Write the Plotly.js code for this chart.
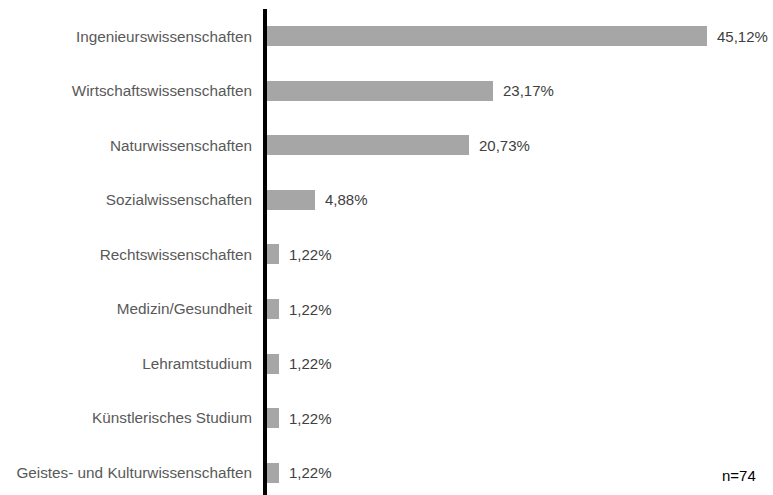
<!DOCTYPE html>
<html>
<head>
<meta charset="utf-8">
<script src="https://cdn.plot.ly/plotly-3.0.1.min.js"></script>
<style>html,body{margin:0;padding:0;background:#fff;}#chart{width:773px;height:495px;}</style>
</head>
<body>
<div id="chart"></div>
<script>
const categories = [
  "Ingenieurswissenschaften",
  "Wirtschaftswissenschaften",
  "Naturwissenschaften",
  "Sozialwissenschaften",
  "Rechtswissenschaften",
  "Medizin/Gesundheit",
  "Lehramtstudium",
  "Künstlerisches Studium",
  "Geistes- und Kulturwissenschaften"
];
const values = [45.12, 23.17, 20.73, 4.88, 1.22, 1.22, 1.22, 1.22, 1.22];
const sampleNote = "n=74";

const fontFamily = "Liberation Sans, Arial, sans-serif";
const valueLabels = values.map(v => v.toFixed(2).replace('.', ',') + '%');

const trace = {
  type: 'bar',
  orientation: 'h',
  x: values,
  y: categories,
  marker: {color: '#a6a6a6'},
  width: 0.367,
  hoverinfo: 'skip'
};

const annotations = values.map((v, i) => ({
  x: v, y: categories[i], xref: 'x', yref: 'y',
  text: valueLabels[i], showarrow: false,
  xanchor: 'left', yanchor: 'middle', xshift: 8,
  font: {family: fontFamily, size: 15, color: '#404040'}
}));
annotations.push({
  x: 46.4, y: categories[categories.length - 1], xref: 'x', yref: 'y',
  text: sampleNote, showarrow: false, xanchor: 'left', yanchor: 'middle', yshift: -3,
  font: {family: fontFamily, size: 15, color: '#000000'}
});

const layout = {
  width: 773, height: 495,
  margin: {l: 267, r: 18, t: 9, b: 0, pad: 0},
  paper_bgcolor: '#ffffff', plot_bgcolor: '#ffffff',
  showlegend: false,
  bargap: 0,
  xaxis: {range: [0, 50], visible: false, fixedrange: true},
  yaxis: {
    type: 'category',
    categoryorder: 'array', categoryarray: categories,
    range: [8.41, -0.5],
    showline: true, linecolor: '#000000', linewidth: 4,
    showgrid: false, zeroline: false, ticks: '',
    ticklabelstandoff: 8,
    tickfont: {family: fontFamily, size: 15.3, color: '#595959'},
    fixedrange: true
  },
  annotations: annotations
};

Plotly.newPlot('chart', [trace], layout, {staticPlot: true, displayModeBar: false});
</script>
</body>
</html>
